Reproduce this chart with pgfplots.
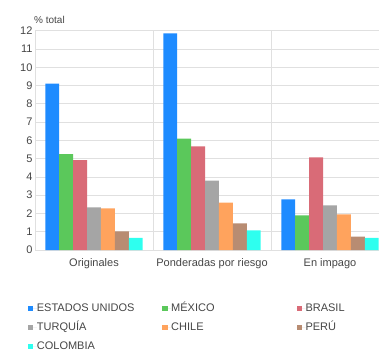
\documentclass[border=0pt]{standalone}
\usepackage{pgfplots}
\pgfplotsset{compat=1.18}
\usepackage{fontspec}
\setmainfont{Liberation Sans}
\definecolor{cUS}{HTML}{1E8BFF}
\definecolor{cMX}{HTML}{5BC85B}
\definecolor{cBR}{HTML}{D96B77}
\definecolor{cTR}{HTML}{A5A5A5}
\definecolor{cCL}{HTML}{FFA35D}
\definecolor{cPE}{HTML}{B88C72}
\definecolor{cCO}{HTML}{2EFFEF}
\definecolor{txt}{HTML}{454545}
\definecolor{gridc}{HTML}{E0E0E0}
\newcommand{\legtxt}[1]{\makebox[125.3pt][l]{#1}}
\begin{document}
\begin{tikzpicture}
\begin{axis}[
  at={(0,0)}, anchor=south west,
  scale only axis, width=354pt, height=219.3pt,
  xmin=-0.5, xmax=2.5, ymin=0, ymax=12,
  ybar=0pt, bar width=0.118,
  axis x line*=bottom, axis y line*=left,
  axis line style={draw=gridc, line width=0.8pt},
  ymajorgrids, major grid style={draw=gridc, line width=0.8pt},
  xtick={0,1,2}, xticklabels={Originales, Ponderadas por riesgo, En impago},
  extra x ticks={0.5,1.5}, extra x tick labels={},
  extra x tick style={grid=major, major tick length=0pt},
  ytick={0,1,...,12},
  major tick length=0pt,
  tick label style={font=\fontsize{11}{13}\selectfont, text=txt},
  /pgf/number format/assume math mode=true,
  xticklabel style={yshift=-5pt},
  yticklabel style={xshift=1pt},
  ylabel={\% total},
  ylabel style={rotate=-90, at={(axis description cs:0,1)}, anchor=south west, yshift=7pt, xshift=-1pt, font=\fontsize{10}{12}\selectfont, text=txt, inner sep=0pt},
  legend columns=3,
  legend style={at={(axis description cs:0,0)}, anchor=north west, xshift=-7.3pt, yshift=-53pt,
    draw=none, fill=none, inner sep=0pt, column sep=0pt, row sep=9pt,
    font=\fontsize{11}{13}\selectfont, text=txt,
    nodes={inner sep=0pt, text height=8pt, text depth=2pt}},
  legend image code/.code={\fill (0pt,-2.6pt) rectangle (5.3pt,2.6pt); \path (0pt,0pt) -- (9pt,0pt);},
]
\addplot[fill=cUS, draw=none] coordinates {(0,9.1) (1,11.85) (2,2.77)};
\addplot[fill=cMX, draw=none] coordinates {(0,5.25) (1,6.09) (2,1.90)};
\addplot[fill=cBR, draw=none] coordinates {(0,4.92) (1,5.67) (2,5.07)};
\addplot[fill=cTR, draw=none] coordinates {(0,2.33) (1,3.79) (2,2.44)};
\addplot[fill=cCL, draw=none] coordinates {(0,2.28) (1,2.59) (2,1.95)};
\addplot[fill=cPE, draw=none] coordinates {(0,1.02) (1,1.46) (2,0.73)};
\addplot[fill=cCO, draw=none] coordinates {(0,0.67) (1,1.08) (2,0.67)};
\addlegendentry{\legtxt{ESTADOS UNIDOS}}
\addlegendentry{\legtxt{MÉXICO}}
\addlegendentry{\legtxt{BRASIL}}
\addlegendentry{\legtxt{TURQUÍA}}
\addlegendentry{\legtxt{CHILE}}
\addlegendentry{\legtxt{PERÚ}}
\addlegendentry{\legtxt{COLOMBIA}}
\end{axis}
\pgfresetboundingbox
\path[use as bounding box] (-35pt,-99pt) rectangle (344pt,250pt);
\end{tikzpicture}
\end{document}
